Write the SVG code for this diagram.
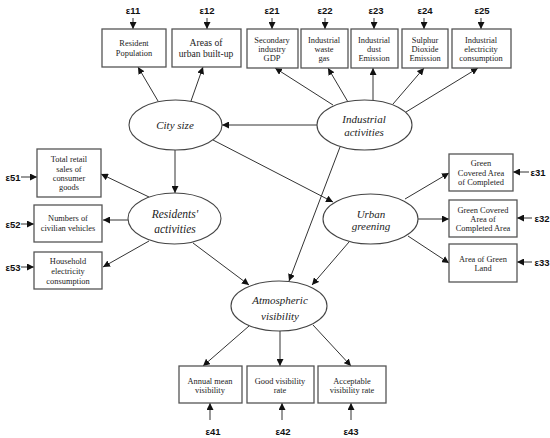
<svg xmlns="http://www.w3.org/2000/svg" width="550" height="438" viewBox="0 0 550 438">
<defs>
<marker id="ah" viewBox="0 0 10 10" refX="10" refY="5" markerWidth="7" markerHeight="7" markerUnits="userSpaceOnUse" orient="auto">
<path d="M0,0 L10,5 L0,10 z" fill="#111"/>
</marker>
</defs>
<style>
.n rect{fill:#fff;stroke:#555;stroke-width:1.3}
ellipse{fill:#fff;stroke:#444;stroke-width:1.1}
.c line{stroke:#333;stroke-width:1;marker-end:url(#ah)}
.t{font-family:"Liberation Serif","Times New Roman",serif;font-size:8.4px;fill:#222;text-anchor:middle}
.tl{font-family:"Liberation Serif","Times New Roman",serif;font-size:9.6px;fill:#222;text-anchor:middle}
.e{font-family:"Liberation Serif","Times New Roman",serif;font-style:italic;font-size:11px;fill:#222;text-anchor:middle}
.eps{font-family:"Liberation Sans",Arial,sans-serif;font-weight:bold;font-size:9.5px;fill:#111;text-anchor:middle}
</style>
<rect width="550" height="438" fill="#fff"/>
<g class="c" id="connectors">
<line x1="133" y1="18" x2="133" y2="29"/>
<line x1="207" y1="18" x2="207" y2="29"/>
<line x1="272" y1="18" x2="272" y2="29"/>
<line x1="325" y1="18" x2="325" y2="29"/>
<line x1="374" y1="18" x2="374" y2="29"/>
<line x1="424" y1="18" x2="424" y2="29"/>
<line x1="481" y1="18" x2="481" y2="29"/>
<line x1="21" y1="177" x2="37" y2="177"/>
<line x1="21" y1="224" x2="34" y2="224"/>
<line x1="21" y1="267" x2="34" y2="267"/>
<line x1="529" y1="172" x2="513" y2="172"/>
<line x1="532" y1="218" x2="517" y2="218"/>
<line x1="532" y1="262" x2="517" y2="262"/>
<line x1="210" y1="420" x2="210" y2="403"/>
<line x1="282" y1="420" x2="282" y2="403"/>
<line x1="351" y1="420" x2="351" y2="403"/>
<line x1="158" y1="101" x2="138" y2="67"/>
<line x1="191" y1="101" x2="203" y2="67"/>
<line x1="333" y1="105" x2="275" y2="68"/>
<line x1="348" y1="102" x2="328" y2="68"/>
<line x1="373" y1="100" x2="373" y2="68"/>
<line x1="393" y1="104" x2="424" y2="68"/>
<line x1="406" y1="112" x2="478" y2="68"/>
<line x1="317" y1="125" x2="222" y2="125"/>
<line x1="175" y1="150" x2="175" y2="193"/>
<line x1="213" y1="140" x2="333" y2="202"/>
<line x1="340" y1="147" x2="289" y2="281"/>
<line x1="193" y1="243" x2="249" y2="285"/>
<line x1="349" y1="242" x2="312" y2="285"/>
<line x1="149" y1="197" x2="101" y2="174"/>
<line x1="128" y1="220" x2="103" y2="220"/>
<line x1="149" y1="241" x2="103" y2="267"/>
<line x1="405" y1="199" x2="449" y2="173"/>
<line x1="418" y1="219" x2="449" y2="219"/>
<line x1="408" y1="236" x2="449" y2="263"/>
<line x1="249" y1="326" x2="203" y2="366"/>
<line x1="280" y1="331" x2="280" y2="366"/>
<line x1="313" y1="325" x2="351" y2="366"/>
</g>
<g id="eps">
<text class="eps" x="133" y="14">ε11</text>
<text class="eps" x="207" y="14">ε12</text>
<text class="eps" x="272" y="14">ε21</text>
<text class="eps" x="325" y="14">ε22</text>
<text class="eps" x="376" y="14">ε23</text>
<text class="eps" x="425" y="14">ε24</text>
<text class="eps" x="482" y="14">ε25</text>
<text class="eps" x="13" y="181">ε51</text>
<text class="eps" x="13" y="228">ε52</text>
<text class="eps" x="13" y="271">ε53</text>
<text class="eps" x="538" y="176">ε31</text>
<text class="eps" x="542" y="222">ε32</text>
<text class="eps" x="542" y="266">ε33</text>
<text class="eps" x="213" y="435">ε41</text>
<text class="eps" x="283" y="435">ε42</text>
<text class="eps" x="351" y="435">ε43</text>
</g>
<g class="n">
<g id="resident-population"><rect x="102" y="29" width="64" height="38"/><text class="t" x="134" y="46">Resident</text><text class="t" x="134" y="56">Population</text></g>
<g id="areas-urban"><rect x="172" y="29" width="69" height="38"/><text class="tl" x="206" y="46">Areas of</text><text class="tl" x="206" y="57">urban built-up</text></g>
<g id="secondary-gdp"><rect x="247" y="29" width="51" height="39"/><text class="t" x="272" y="43">Secondary</text><text class="t" x="272" y="52">industry</text><text class="t" x="272" y="61">GDP</text></g>
<g id="waste-gas"><rect x="301" y="29" width="47" height="39"/><text class="t" x="324" y="43">Industrial</text><text class="t" x="324" y="52">waste</text><text class="t" x="324" y="61">gas</text></g>
<g id="dust"><rect x="351" y="29" width="47" height="39"/><text class="t" x="374" y="43">Industrial</text><text class="t" x="374" y="52">dust</text><text class="t" x="374" y="61">Emission</text></g>
<g id="so2"><rect x="402" y="29" width="46" height="39"/><text class="t" x="425" y="43">Sulphur</text><text class="t" x="425" y="52">Dioxide</text><text class="t" x="425" y="61">Emission</text></g>
<g id="ind-electricity"><rect x="452" y="29" width="59" height="39"/><text class="t" x="481" y="43">Industrial</text><text class="t" x="481" y="52">electricity</text><text class="t" x="481" y="61">consumption</text></g>
<g id="city-size"><ellipse cx="175.5" cy="125" rx="46.5" ry="25"/><text class="e" x="175" y="129">City size</text></g>
<g id="industrial-activities"><ellipse cx="364.5" cy="125" rx="47.5" ry="25"/><text class="e" x="364" y="123">Industrial</text><text class="e" x="364" y="136">activities</text></g>
<g id="residents-activities"><ellipse cx="174.5" cy="218.5" rx="46.5" ry="25.5"/><text class="e" x="175" y="218" style="font-size:11.5px">Residents'</text><text class="e" x="175" y="233" style="font-size:11.5px">activities</text></g>
<g id="urban-greening"><ellipse cx="370.5" cy="219" rx="47.5" ry="25"/><text class="e" x="371" y="218">Urban</text><text class="e" x="371" y="230">greening</text></g>
<g id="atmospheric-visibility"><ellipse cx="279" cy="306" rx="48" ry="25"/><text class="e" x="280" y="304">Atmospheric</text><text class="e" x="280" y="320">visibility</text></g>
<g id="retail"><rect x="37" y="149" width="64" height="48"/><text class="t" x="69" y="162">Total retail</text><text class="t" x="69" y="172">sales of</text><text class="t" x="69" y="181">consumer</text><text class="t" x="69" y="190">goods</text></g>
<g id="vehicles"><rect x="34" y="205" width="68" height="37"/><text class="t" x="68" y="221">Numbers of</text><text class="t" x="68" y="231">civilian vehicles</text></g>
<g id="household"><rect x="34" y="252" width="68" height="37"/><text class="t" x="68" y="264">Household</text><text class="t" x="68" y="274">electricity</text><text class="t" x="68" y="284">consumption</text></g>
<g id="green-covered"><rect x="449" y="154" width="64" height="37"/><text class="t" x="481" y="166">Green</text><text class="t" x="481" y="176">Covered Area</text><text class="t" x="481" y="185">of Completed</text></g>
<g id="green-covered-area"><rect x="449" y="200" width="68" height="37"/><text class="t" x="483" y="213">Green Covered</text><text class="t" x="483" y="222">Area of</text><text class="t" x="483" y="231">Completed Area</text></g>
<g id="green-land"><rect x="449" y="244" width="68" height="38"/><text class="t" x="483" y="262">Area of Green</text><text class="t" x="483" y="271">Land</text></g>
<g id="annual-mean"><rect x="179" y="366" width="63" height="37"/><text class="t" x="210" y="384">Annual mean</text><text class="t" x="210" y="393">visibility</text></g>
<g id="good-visibility"><rect x="247" y="366" width="67" height="37"/><text class="t" x="280" y="384">Good visibility</text><text class="t" x="280" y="393">rate</text></g>
<g id="acceptable-visibility"><rect x="318" y="366" width="68" height="37"/><text class="t" x="352" y="384">Acceptable</text><text class="t" x="352" y="393">visibility rate</text></g>
</g>
</svg>
